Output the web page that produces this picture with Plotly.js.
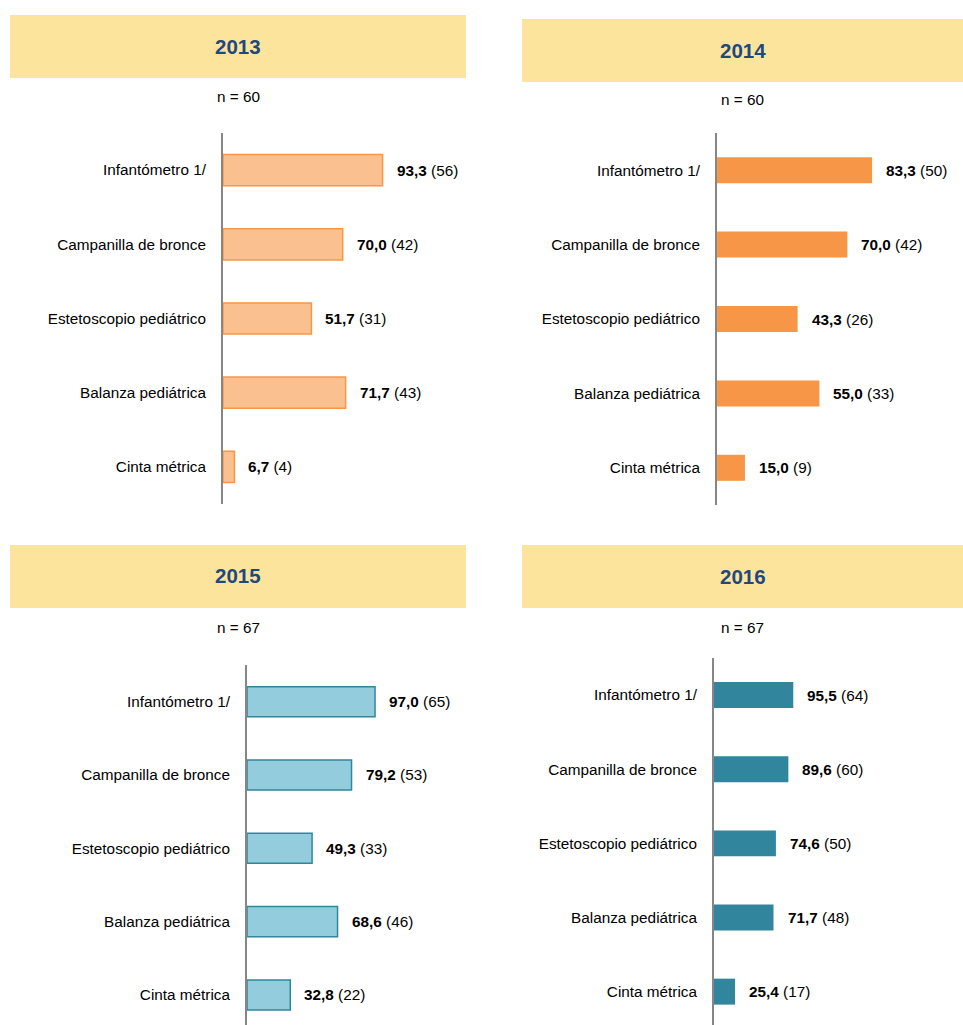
<!DOCTYPE html>
<html>
<head>
<meta charset="utf-8">
<script src="https://cdn.plot.ly/plotly-3.0.1.min.js"></script>
<style>html,body{margin:0;padding:0;background:#fff;}#chart{width:963px;height:1025px;}</style>
</head>
<body>
<div id="chart"></div>
<script>
const categories = ["Infantómetro 1/", "Campanilla de bronce", "Estetoscopio pediátrico", "Balanza pediátrica", "Cinta métrica"];
const years = ["2013", "2014", "2015", "2016"];
const nValues = [60, 60, 67, 67];
const pct2013 = [93.3, 70.0, 51.7, 71.7, 6.7];
const cnt2013 = [56, 42, 31, 43, 4];
const pct2014 = [83.3, 70.0, 43.3, 55.0, 15.0];
const cnt2014 = [50, 42, 26, 33, 9];
const pct2015 = [97.0, 79.2, 49.3, 68.6, 32.8];
const cnt2015 = [65, 53, 33, 46, 22];
const pct2016 = [95.5, 89.6, 74.6, 71.7, 25.4];
const cnt2016 = [64, 60, 50, 48, 17];

const W = 963, H = 1025;
const FONT = "Liberation Sans, Arial, sans-serif";
const FS = 15.3;
const px2x = p => p / W;
const px2y = p => 1 - p / H;

const panels = [
  {pct: pct2013, cnt: cnt2013, fill: "#FAC090", line: "#F79646", lw: 1.5, x0: 223, scale: 1.71, top: 133, bot: 504, rng: [4.5, -0.5], bw: 0.42,
   hdr: [10, 466, 15, 78], ty: 46, ny: 97},
  {pct: pct2014, cnt: cnt2014, fill: "#F79646", line: "#F79646", lw: 0, x0: 717, scale: 1.862, top: 133, bot: 505, rng: [4.5, -0.5], bw: 0.35,
   hdr: [522, 963, 19, 82], ty: 50, ny: 100},
  {pct: pct2015, cnt: cnt2015, fill: "#93CDDD", line: "#31859C", lw: 1.5, x0: 247, scale: 1.32, top: 665, bot: 1025, rng: [4.41, -0.5], bw: 0.41,
   hdr: [10, 466, 545, 608], ty: 575, ny: 627},
  {pct: pct2016, cnt: cnt2016, fill: "#31859C", line: "#31859C", lw: 0, x0: 714, scale: 0.83, top: 658, bot: 1025, rng: [4.45, -0.5], bw: 0.35,
   hdr: [522, 963, 545, 608], ty: 576, ny: 627}
];

const fmt = v => v.toFixed(1).replace(".", ",");
const data = [];
const layout = {
  width: W, height: H, margin: {l: 0, r: 0, t: 0, b: 0},
  paper_bgcolor: "#ffffff", plot_bgcolor: "rgba(0,0,0,0)",
  showlegend: false, font: {family: FONT, size: FS, color: "#000"},
  shapes: [], annotations: []
};

panels.forEach((p, i) => {
  const k = i + 1;
  const xa = "x" + (k === 1 ? "" : k), ya = "y" + (k === 1 ? "" : k);
  data.push({
    type: "bar", orientation: "h", x: p.pct, y: categories,
    xaxis: xa, yaxis: ya, width: p.bw,
    marker: {color: p.fill, line: {color: p.line, width: p.lw}},
    hoverinfo: "none"
  });
  layout["xaxis" + (k === 1 ? "" : k)] = {
    domain: [px2x(p.x0), px2x(p.x0 + 100 * p.scale)], range: [0, 100],
    anchor: ya, visible: false, fixedrange: true
  };
  layout["yaxis" + (k === 1 ? "" : k)] = {
    domain: [px2y(p.bot), px2y(p.top)], range: p.rng, type: "category",
    anchor: xa, showline: true, linecolor: "#868686", linewidth: 2,
    showgrid: false, zeroline: false, ticks: "outside", ticklen: 12, tickcolor: "rgba(0,0,0,0)",
    tickfont: {family: FONT, size: FS, color: "#000"}, fixedrange: true
  };
  const [hx0, hx1, hy0, hy1] = p.hdr;
  layout.shapes.push({type: "rect", xref: "paper", yref: "paper",
    x0: px2x(hx0), x1: px2x(hx1), y0: px2y(hy1), y1: px2y(hy0),
    fillcolor: "#FDE49D", line: {width: 0}, layer: "below"});
  layout.annotations.push({xref: "paper", yref: "paper", x: px2x((hx0 + hx1) / 2), y: px2y(p.ty),
    text: "<b>" + years[i] + "</b>", showarrow: false, xanchor: "center", yanchor: "middle",
    font: {family: FONT, size: 20.5, color: "#1F497D"}});
  layout.annotations.push({xref: "paper", yref: "paper", x: px2x((hx0 + hx1) / 2), y: px2y(p.ny),
    text: "n = " + nValues[i], showarrow: false, xanchor: "center", yanchor: "middle",
    font: {family: FONT, size: FS, color: "#000"}});
  categories.forEach((c, j) => {
    layout.annotations.push({xref: xa, yref: ya, x: p.pct[j], y: c,
      text: "<b>" + fmt(p.pct[j]) + "</b> (" + p.cnt[j] + ")", showarrow: false,
      xanchor: "left", yanchor: "middle", xshift: 12,
      font: {family: FONT, size: FS, color: "#000"}});
  });
});

Plotly.newPlot("chart", data, layout, {displayModeBar: false, staticPlot: true});
</script>
</body>
</html>
